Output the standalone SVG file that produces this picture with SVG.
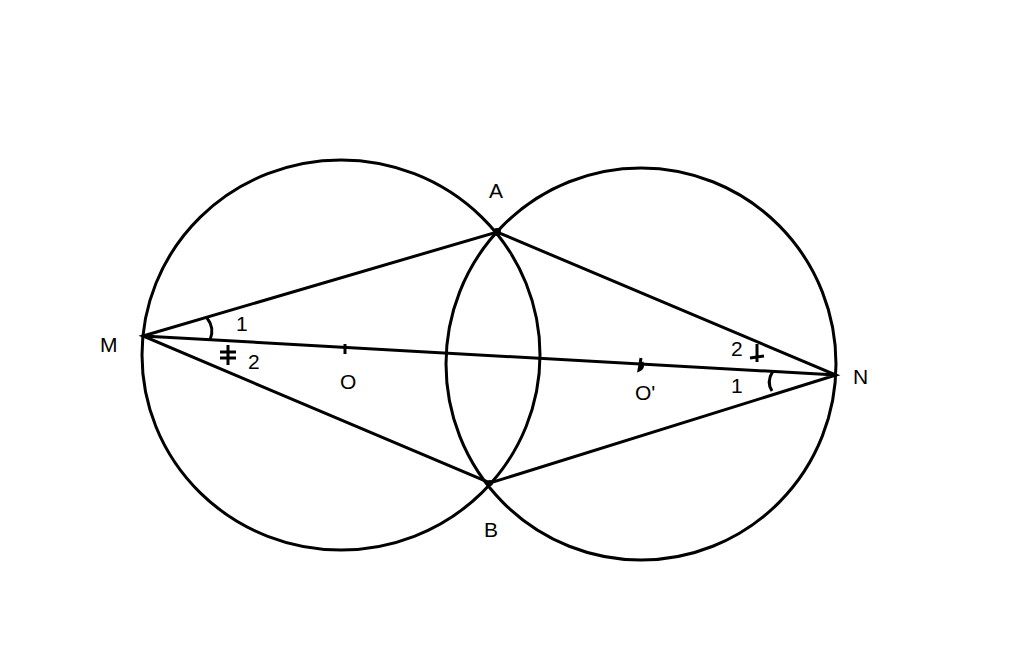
<svg xmlns="http://www.w3.org/2000/svg" width="1024" height="670" viewBox="0 0 1024 670">
<style>
.s{fill:none;stroke:#000;stroke-width:3}
.t{font-family:"Liberation Sans",Arial,sans-serif;font-size:21px;fill:#000}
</style>
<rect width="1024" height="670" fill="#fff"/>
<g id="circles">
<ellipse class="s" cx="341" cy="355" rx="199" ry="195"/>
<ellipse class="s" cx="641" cy="364" rx="195" ry="196"/>
</g>
<g id="connectors">
<path class="s" d="M143,336 L497,232 L836,375 L490,483 Z M143,336 L836,375"/>
<path class="s" d="M207,318 Q215,328 210,340"/>
<path class="s" d="M220,352 L236,352 M220,358 L236,358 M228,345 L228,365"/>
<path class="s" d="M772,391 Q766,382 773,371"/>
<path class="s" d="M757,344 L757,362 M750,358 L764,356"/>
<path class="s" d="M345,344 L345,354"/>
<path class="s" d="M641,358 L639,370 Q644,368 642,362"/>
</g>
<circle cx="497" cy="232" r="4"/>
<circle cx="490" cy="483" r="3"/>
<g id="labels">
<text class="t" x="489" y="198">A</text>
<text class="t" x="484" y="537">B</text>
<text class="t" x="100" y="352">M</text>
<text class="t" x="853" y="384">N</text>
<text class="t" x="340" y="389">O</text>
<text class="t" x="635" y="400">O'</text>
<text class="t" x="236" y="331">1</text>
<text class="t" x="248" y="369">2</text>
<text class="t" x="731" y="356">2</text>
<text class="t" x="731" y="393">1</text>
</g>
</svg>
